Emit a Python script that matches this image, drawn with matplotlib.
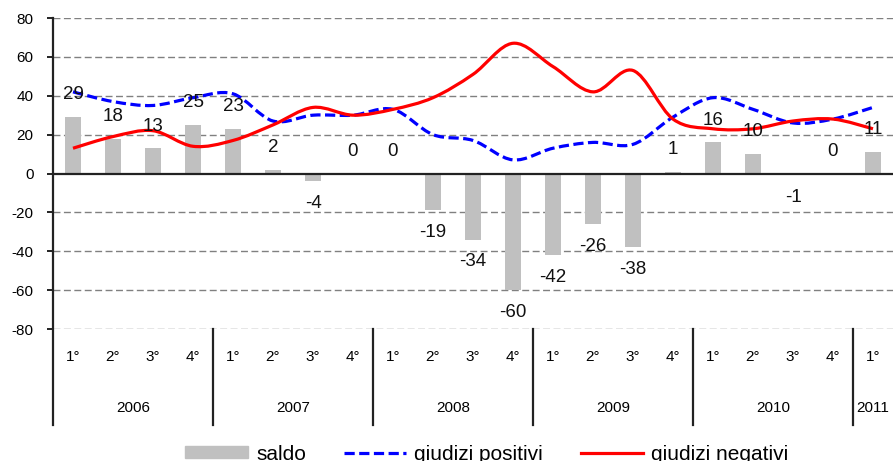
import matplotlib

matplotlib.use("Agg")
import matplotlib.pyplot as plt  # noqa: E402
from matplotlib.lines import Line2D
from matplotlib.patches import Patch, PathPatch
from matplotlib.path import Path
import matplotlib.transforms as mtransforms

plt.rcParams["font.family"] = ["Liberation Sans", "DejaVu Sans"]
plt.rcParams["axes.unicode_minus"] = False

years = ["2006", "2007", "2008", "2009", "2010", "2011"]
quarters = ["1°", "2°", "3°", "4°"] * 5 + ["1°"]
saldo = [29, 18, 13, 25, 23, 2, -4, 0, 0, -19, -34, -60, -42, -26, -38, 1, 16, 10, -1, 0, 11]
positivi = [42, 37, 35, 39, 41, 27, 30, 30, 33, 20, 17, 7, 13, 16, 15, 29, 39, 33, 26, 28, 34]
negativi = [13, 19, 22, 14, 17, 25, 34, 30, 33, 39, 51, 67, 55, 42, 53, 28, 23, 23, 27, 28, 23]

GREY = "#c0c0c0"
BLUE = "#0000ff"
RED = "#ff0000"


def smooth_path(xs, ys):
    # excel-like smoothed line: cubic bezier through every point
    n = len(xs)
    verts = [(xs[0], ys[0])]
    codes = [Path.MOVETO]
    for i in range(n - 1):
        a = max(i - 1, 0)
        b = min(i + 2, n - 1)
        c1 = (xs[i] + (xs[i + 1] - xs[a]) / 6, ys[i] + (ys[i + 1] - ys[a]) / 6)
        c2 = (xs[i + 1] - (xs[b] - xs[i]) / 6, ys[i + 1] - (ys[b] - ys[i]) / 6)
        verts += [c1, c2, (xs[i + 1], ys[i + 1])]
        codes += [Path.CURVE4] * 3
    return Path(verts, codes)


fig = plt.figure(figsize=(8.96, 4.61), dpi=100)
ax = fig.add_axes([53 / 896, 132 / 461, 840 / 896, 311 / 461])
x = list(range(len(saldo)))

ax.bar(x, saldo, width=0.42, color=GREY, zorder=2)

ax.add_patch(PathPatch(smooth_path(x, positivi), fill=False, edgecolor=BLUE, lw=2.3,
                       linestyle=(0, (3.2, 1.4)), capstyle="butt", zorder=3))
ax.add_patch(PathPatch(smooth_path(x, negativi), fill=False, edgecolor=RED, lw=2.3, zorder=3))

for i, v in enumerate(saldo):
    ax.annotate(str(v), (i, v), xytext=(0, 16 if v >= 0 else -16), textcoords="offset points",
                ha="center", va="center", fontsize=13.5, color="#111111", zorder=5)

ax.set_xlim(-0.5, len(saldo) - 0.5)
ax.set_ylim(-80, 80)
ax.set_yticks(range(-80, 81, 20))
ax.set_xticks([])
for y in range(-80, 81, 20):
    if y != 0:
        ax.axhline(y, color="#808080", lw=1, linestyle=(0, (5, 2.5)), zorder=1)
ax.axhline(0, color="#222222", lw=1.6, zorder=4)
for s in ax.spines.values():
    s.set_visible(False)
ax.tick_params(axis="y", length=4, width=1.4, color="#222222", pad=10, labelsize=11)

# category axis: quarters, years and separators below the plot
trans = mtransforms.blended_transform_factory(ax.transData, ax.transAxes)
ax.plot([-0.5, -0.5], [-0.31, 1], color="#222222", lw=1.6, transform=trans, clip_on=False)
for k in range(1, len(years)):
    sep = 4 * k - 0.5
    ax.plot([sep, sep], [-0.31, 0], color="#222222", lw=1.6, transform=trans, clip_on=False)
for i, q in enumerate(quarters):
    ax.text(i, -0.09, q, transform=trans, ha="center", va="center", fontsize=11)
for k, yr in enumerate(years):
    xc = 4 * k + 1.5 if k < len(years) - 1 else 4 * k
    ax.text(xc, -0.255, yr, transform=trans, ha="center", va="center", fontsize=11)

handles = [
    Patch(color=GREY),
    Line2D([], [], color=BLUE, lw=2.3, linestyle=(0, (3.2, 1.4))),
    Line2D([], [], color=RED, lw=2.3),
]
fig.legend(handles, ["saldo", "giudizi positivi", "giudizi negativi"], loc="center",
           bbox_to_anchor=(487 / 896, 1 - 454 / 461), ncol=3, frameon=False, fontsize=15,
           handlelength=3.0, handletextpad=0.4, columnspacing=1.8, handleheight=0.5)

fig.savefig("out.png", dpi=100)
